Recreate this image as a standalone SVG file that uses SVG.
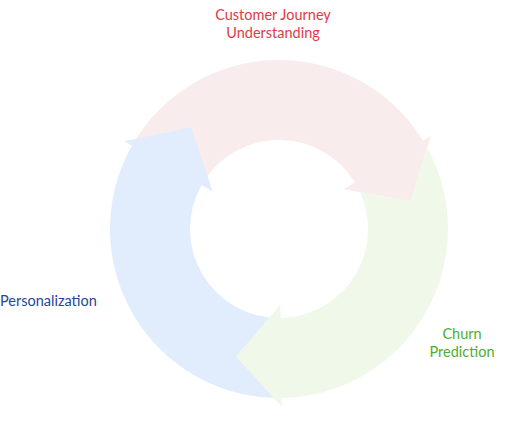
<svg xmlns="http://www.w3.org/2000/svg" width="510" height="440" viewBox="0 0 510 440">
<style>
.lbl{font-family:Lato,"Open Sans","Liberation Sans",sans-serif;font-size:14.5px}
.red{fill:#F9ECEC}
.green{fill:#F0F9E9}
.blue{fill:#E1EDFD}
</style>
<rect width="510" height="440" fill="#FFFFFF"/>
<g id="connectors"></g>
<g id="node-journey">
<path class="red" d="M131.91,145.78 A169,169 0 0 1 423.10,140.70 L430.77,135.99 L410.66,201.49 L343.80,189.29 L354.88,182.50 A89,89 0 0 0 201.54,185.17 Z"/>
<text class="lbl" x="273" y="19.5" text-anchor="middle" fill="#E03A46">Customer Journey</text>
<text class="lbl" x="273" y="38" text-anchor="middle" fill="#E03A46">Understanding</text>
</g>
<g id="node-personalization">
<path class="blue" d="M281.95,397.97 A169,169 0 0 1 131.91,145.78 L124.08,141.35 L191.11,127.18 L212.85,191.58 L201.54,185.17 A89,89 0 0 0 280.55,317.99 Z"/>
<text class="lbl" x="0" y="306" fill="#24479A">Personalization</text>
</g>
<g id="node-churn">
<path class="green" d="M427.17,147.72 A169,169 0 0 1 281.95,397.97 L282.11,406.97 L235.88,356.40 L280.33,304.99 L280.55,317.99 A89,89 0 0 0 360.06,192.26 L410.66,201.49 Z"/>
<text class="lbl" x="462" y="339" text-anchor="middle" fill="#4DAE33">Churn</text>
<text class="lbl" x="462" y="357" text-anchor="middle" fill="#4DAE33">Prediction</text>
</g>
</svg>
